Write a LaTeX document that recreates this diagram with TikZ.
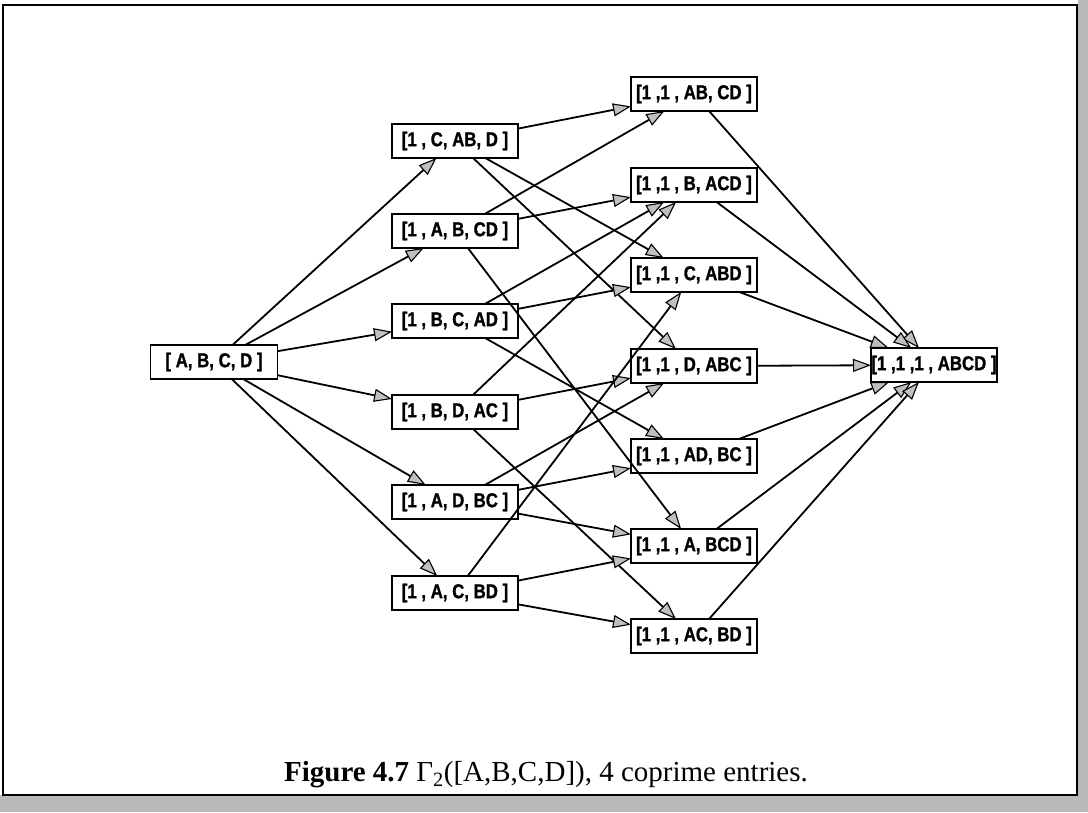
\documentclass[tikz,border=0pt]{standalone}
\usepackage{fontspec}
\setmainfont{Liberation Serif}
\newfontfamily\boxfont[FakeStretch=0.84,FakeBold=1.2]{Liberation Sans Bold}
\usetikzlibrary{arrows.meta}
\begin{document}
\begin{tikzpicture}[x=1pt,y=-1pt,
  state/.style={draw, line width=1.9pt, minimum width=126pt, minimum height=34pt,
    inner sep=0pt, outer sep=0pt, fill=white,
    font=\boxfont\fontsize{20}{22}\selectfont},
  link/.style={line width=1.8pt,
    -{Triangle[fill=gray!50, length=18pt, width=13pt, line width=1.1pt]}}]
% page and scanned frame
\useasboundingbox (0,0) rectangle (1088,812);
\fill[white] (0,0) rectangle (1088,812);
\fill[gray!55] (1078,0) rectangle (1088,812);
\fill[gray!55] (0,795) rectangle (1088,812);
\draw[line width=1.6pt] (3,5) rectangle (1077,795);

% states
\node[state, minimum width=127pt] (s) at (214,362) {[ A, B, C, D ]};

\node[state] (m1) at (455,141) {[1 , C, AB, D ]};
\node[state] (m2) at (455,231) {[1 , A, B, CD ]};
\node[state] (m3) at (455,321) {[1 , B, C, AD ]};
\node[state] (m4) at (455,412) {[1 , B, D, AC ]};
\node[state] (m5) at (455,502) {[1 , A, D, BC ]};
\node[state] (m6) at (455,593) {[1 , A, C, BD ]};

\node[state] (t1) at (694,94)  {[1 ,1 , AB, CD ]};
\node[state] (t2) at (694,185) {[1 ,1 , B, ACD ]};
\node[state] (t3) at (694,275) {[1 ,1 , C, ABD ]};
\node[state] (t4) at (694,366) {[1 ,1 , D, ABC ]};
\node[state] (t5) at (694,456) {[1 ,1 , AD, BC ]};
\node[state] (t6) at (694,546) {[1 ,1 , A, BCD ]};
\node[state] (t7) at (694,636) {[1 ,1 , AC, BD ]};

\node[state] (f) at (934,365) {[1 ,1 ,1 , ABCD ]};

% transitions
\foreach \m in {m1,m2,m3,m4,m5,m6} \draw[link] (s) -- (\m);
\foreach \a/\b in {m1/t1, m1/t3, m1/t4,
                   m2/t1, m2/t2, m2/t6,
                   m3/t2, m3/t3, m3/t5,
                   m4/t2, m4/t4, m4/t7,
                   m5/t4, m5/t5, m5/t6,
                   m6/t3, m6/t6, m6/t7}
  \draw[link] (\a) -- (\b);
\foreach \t in {t1,t2,t3,t4,t5,t6,t7} \draw[link] (\t) -- (f);

% caption
\node[font=\fontsize{29}{32}\selectfont, inner sep=0pt] (cap) at (546,775)
  {\textbf{Figure 4.7} Γ\textsubscript{2}([A,B,C,D]), 4 coprime entries.};
\end{tikzpicture}
\end{document}
